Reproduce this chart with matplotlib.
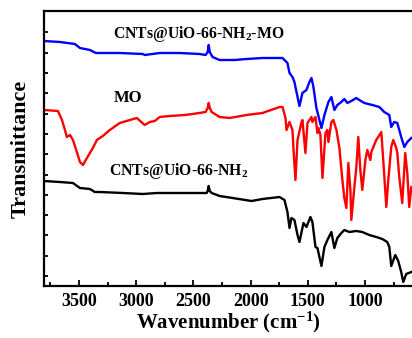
import matplotlib
matplotlib.use("Agg")
import matplotlib.pyplot as plt
import numpy as np

plt.rcParams['font.family'] = ['Liberation Serif', 'DejaVu Serif']
plt.rcParams['font.weight'] = 'bold'
plt.rcParams['mathtext.fontset'] = 'custom'
plt.rcParams['mathtext.rm'] = 'Liberation Serif:bold'
plt.rcParams['mathtext.bf'] = 'Liberation Serif:bold'
plt.rcParams['mathtext.it'] = 'Liberation Serif:bold'

# CNTs@UiO-66-NH2-MO (blue)
wn_blue = [3805, 3666, 3535, 3491, 3404, 3352, 3143, 2942, 2925, 2794, 2619, 2445, 2393, 2375, 2366, 2357,
           2332, 2271, 2140, 2035, 1896, 1721, 1678, 1660, 1634, 1617, 1599, 1573, 1547, 1512, 1486, 1468,
           1451, 1425, 1416, 1381, 1355, 1320, 1294, 1268, 1242, 1207, 1181, 1154, 1120, 1076, 1050, 1006,
           936, 875, 832, 788, 771, 745, 718, 684, 657, 631, 596]
t_blue = [24.5, 24.4, 24.2, 23.8, 23.6, 23.3, 23.3, 23.2, 23.1, 23.3, 23.3, 23.2, 23.1, 23.4, 24.1, 23.4,
          22.9, 22.6, 22.6, 22.7, 22.8, 22.8, 22.3, 21.3, 20.9, 20.4, 19.4, 18.0, 19.3, 19.6, 20.4, 20.8,
          19.9, 17.8, 17.4, 15.8, 17.1, 18.4, 18.9, 17.6, 18.1, 18.4, 18.7, 18.3, 18.5, 18.8, 18.6, 18.3,
          18.1, 17.9, 17.4, 17.1, 15.9, 16.4, 16.3, 14.9, 13.9, 14.4, 14.8]

# MO (red)
wn_red = [3805, 3683, 3648, 3622, 3605, 3578, 3552, 3518, 3491, 3465, 3430, 3378, 3343, 3291, 3230, 3143,
          3055, 2994, 2925, 2881, 2837, 2794, 2707, 2576, 2506, 2393, 2375, 2366, 2357, 2340, 2271, 2183,
          2035, 1896, 1747, 1721, 1695, 1686, 1660, 1634, 1625, 1608, 1590, 1555, 1547, 1521, 1503, 1468,
          1460, 1433, 1416, 1407, 1390, 1372, 1346, 1329, 1320, 1294, 1277, 1250, 1224, 1198, 1181, 1163,
          1146, 1128, 1120, 1093, 1076, 1059, 1041, 1024, 997, 980, 954, 945, 902, 858, 841, 814, 797,
          771, 753, 727, 718, 701, 675, 649, 631, 614, 596]
t_red = [17.6, 17.5, 16.6, 15.6, 14.9, 15.1, 14.6, 13.4, 12.4, 12.1, 12.8, 13.8, 14.6, 15.0, 15.6, 16.3,
         16.6, 16.8, 16.1, 16.4, 16.5, 16.9, 17.0, 17.1, 17.2, 17.4, 17.8, 18.3, 17.8, 17.4, 16.9, 16.8,
         17.1, 17.3, 17.9, 17.9, 16.8, 15.6, 16.4, 15.6, 13.6, 10.6, 14.6, 16.4, 16.6, 13.3, 16.3, 16.9,
         16.4, 16.9, 15.3, 15.8, 15.1, 10.8, 15.3, 15.6, 14.4, 16.4, 16.6, 15.6, 13.8, 10.6, 8.8, 7.8,
         12.3, 9.6, 6.6, 9.9, 11.9, 14.9, 11.6, 9.6, 12.6, 13.6, 12.6, 13.4, 14.6, 15.4, 12.6, 7.9, 10.6,
         13.9, 14.6, 13.8, 13.3, 10.9, 8.3, 13.3, 11.3, 7.9, 9.9]

# CNTs@UiO-66-NH2 (black)
wn_black = [3805, 3666, 3552, 3491, 3404, 3361, 3317, 3116, 2942, 2820, 2619, 2384, 2375, 2366, 2357, 2340,
            2271, 2157, 1992, 1896, 1747, 1704, 1678, 1660, 1643, 1617, 1590, 1573, 1538, 1512, 1477, 1460,
            1433, 1416, 1381, 1355, 1329, 1294, 1268, 1242, 1207, 1181, 1137, 1076, 1024, 963, 902, 849,
            806, 788, 771, 736, 710, 684, 666, 640, 596]
t_black = [10.5, 10.4, 10.3, 9.8, 9.7, 9.4, 9.4, 9.3, 9.2, 9.3, 9.3, 9.3, 9.5, 10.0, 9.5, 9.3,
           9.0, 8.8, 8.5, 8.7, 8.9, 8.6, 7.4, 5.8, 6.8, 6.6, 5.1, 4.4, 6.3, 5.9, 6.9, 6.4,
           3.9, 3.8, 2.0, 3.9, 4.6, 5.4, 3.8, 4.8, 5.3, 5.6, 5.4, 5.5, 5.4, 5.1, 4.9, 4.7,
           4.4, 3.9, 2.0, 3.1, 2.5, 1.4, 0.4, 1.2, 1.4]

labels = [r'CNTs@UiO-66-NH$_{2}$-MO', 'MO', r'CNTs@UiO-66-NH$_{2}$']
x_ticks = [3500, 3000, 2500, 2000, 1500, 1000]

fig = plt.figure(figsize=(4.12, 3.38), dpi=100)
ax = fig.add_axes([44/412, 52/338, 369/412, 275/338])

ax.plot(wn_blue, t_blue, color='#0000ff', lw=1.7)
ax.plot(wn_red, t_red, color='#ff0000', lw=1.7)
ax.plot(wn_black, t_black, color='black', lw=1.7)

ax.set_xlim(3805, 581)
ax.set_ylim(0, 27.5)
ax.set_xticks(x_ticks)
ax.set_xticks(np.arange(3750, 600, -250), minor=True)
ax.set_yticks(1.0 + 2.03 * np.arange(13))
ax.set_yticklabels([])
ax.tick_params(axis='both', which='both', direction='in', top=False, right=False)
ax.tick_params(axis='x', which='major', length=4, width=1.3, labelsize=13, pad=5)
ax.tick_params(axis='x', which='minor', length=3, width=1.3)
ax.tick_params(axis='y', which='major', length=3, width=1.3)
for lbl in ax.get_xticklabels():
    lbl.set_fontweight('bold')
for s in ax.spines.values():
    s.set_linewidth(1.6)

ax.text(3201, 24.8, labels[0], fontsize=11.3, fontweight='bold', ha='left', va='baseline')
ax.text(3192, 18.4, labels[1], fontsize=12, fontweight='bold', ha='left', va='baseline')
ax.text(3236, 11.1, labels[2], fontsize=11.3, fontweight='bold', ha='left', va='baseline')

ax.set_xlabel(r'Wavenumber (cm$^{-1}$)', fontsize=15, fontweight='bold', labelpad=0)
ax.set_ylabel('Transmittance', fontsize=16, fontweight='bold', labelpad=6)

fig.savefig('out.png', dpi=100)
